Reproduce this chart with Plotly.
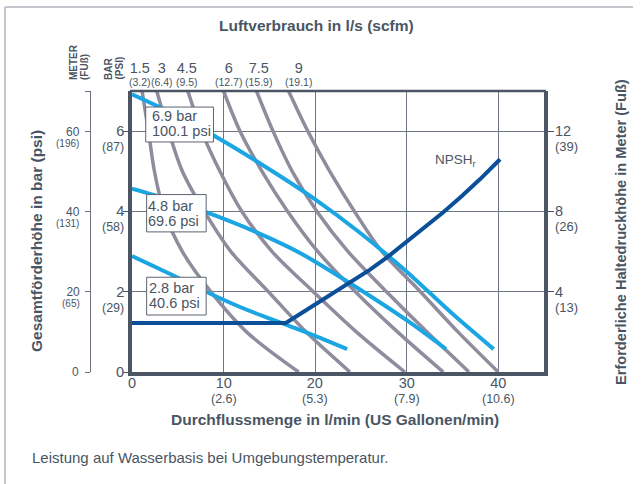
import plotly.graph_objects as go

# ---------------------------------------------------------------- data
# Flow axis (l/min) with US gal/min equivalents
FLOW_TICKS = [0, 10, 20, 30, 40]
FLOW_GPM = ["", "(2.6)", "(5.3)", "(7.9)", "(10.6)"]

# Discharge head, bar (psi)
HEAD_BAR_TICKS = [0, 2, 4, 6]
HEAD_PSI = ["", "(29)", "(58)", "(87)"]

# Discharge head, metres (feet)
HEAD_M_TICKS = [0, 20, 40, 60]
HEAD_FT = ["", "(65)", "(131)", "(196)"]

# NPSHr axis, metres (feet)
NPSH_TICKS = [4, 8, 12]
NPSH_FT = ["(13)", "(26)", "(39)"]

# Air consumption, l/s (scfm)
AIR_LS = ["1.5", "3", "4.5", "6", "7.5", "9"]
AIR_SCFM = ["(3.2)", "(6.4)", "(9.5)", "(12.7)", "(15.9)", "(19.1)"]

# Air consumption curves: flow (l/min) at each head level (bar)
AIR_HEAD = [7, 6, 5, 4, 3, 2, 1, 0]
AIR_1_5 = [1.1, 1.8, 2.45, 3.5, 5.5, 8.6, 12.5, 18.2]
AIR_3 = [2.7, 4.0, 5.5, 7.9, 10.8, 14.9, 19.0, 23.8]
AIR_4_5 = [6.1, 7.6, 9.6, 12.0, 15.3, 19.8, 24.5, 29.8]
AIR_6 = [10.0, 11.8, 14.2, 17.0, 20.3, 24.4, 29.0, 34.0]
AIR_7_5 = [13.6, 15.4, 17.5, 20.2, 23.6, 27.8, 32.2, 36.8]
AIR_9 = [17.1, 19.2, 21.6, 24.3, 27.3, 31.5, 35.6, 40.0]

# Performance curves at three air inlet pressures: flow (l/min), head (bar)
P69_FLOW = [0, 5, 10, 15, 20, 25, 30, 35, 39.5]
P69_HEAD = [6.92, 6.38, 5.75, 5.05, 4.3, 3.45, 2.5, 1.45, 0.57]
P48_FLOW = [0, 4, 8.1, 13.8, 18.4, 23.9, 30, 34.3]
P48_HEAD = [4.57, 4.3, 3.98, 3.46, 2.96, 2.2, 1.29, 0.57]
P28_FLOW = [0, 4, 8.1, 12, 16.8, 20, 23.5]
P28_HEAD = [2.89, 2.46, 2.0, 1.6, 1.18, 0.9, 0.57]

# Required net positive suction head (m)
NPSH_FLOW = [0, 16.8, 20, 22, 24, 26, 28, 30, 32, 34, 36, 38, 40.2]
NPSH_M = [2.44, 2.44, 3.36, 3.94, 4.5, 5.1, 5.76, 6.5, 7.2, 7.96, 8.76, 9.6, 10.6]

PRESSURE_LABELS = [("6.9 bar", "100.1 psi"), ("4.8 bar", "69.6 psi"), ("2.8 bar", "40.6 psi")]

# ---------------------------------------------------------------- style
W, H = 641, 484
ML, MR, MT, MB = 20, 20, 91, 112
PW = W - ML - MR
PH = H - MT - MB
TEXT = "#4a5563"
FRAME = "#4b5563"
GRID = "#6f7782"
GRAY = "#8e8c9d"
LIGHT_BLUE = "#1ba6e3"
DARK_BLUE = "#0b4f98"
FONT = "Liberation Sans, Arial, sans-serif"


def px(x):
    return (x - ML) / PW


def py(y):
    return (H - MB - y) / PH


def span(s, size):
    return f"<span style='font-size:{size}px'>{s}</span>"


fig = go.Figure()

for flows in [AIR_1_5, AIR_3, AIR_4_5, AIR_6, AIR_7_5, AIR_9]:
    fig.add_trace(go.Scatter(
        x=flows, y=AIR_HEAD, mode="lines",
        line=dict(color=GRAY, width=3.5, shape="spline", smoothing=0.9),
        hoverinfo="skip", showlegend=False))

for fx, fy in [(P69_FLOW, P69_HEAD), (P48_FLOW, P48_HEAD), (P28_FLOW, P28_HEAD)]:
    fig.add_trace(go.Scatter(
        x=fx, y=fy, mode="lines",
        line=dict(color=LIGHT_BLUE, width=4, shape="spline", smoothing=0.8),
        hoverinfo="skip", showlegend=False))

fig.add_trace(go.Scatter(
    x=NPSH_FLOW, y=NPSH_M, mode="lines", yaxis="y2",
    line=dict(color=DARK_BLUE, width=4),
    hoverinfo="skip", showlegend=False))

x0_dom = px(132)
x1_dom = px(544)

fig.update_layout(
    width=W, height=H, autosize=False,
    margin=dict(l=ML, r=MR, t=MT, b=MB, pad=0),
    paper_bgcolor="white", plot_bgcolor="white",
    font=dict(family=FONT, color=TEXT),
    showlegend=False,
    xaxis=dict(range=[0, 45], domain=[x0_dom, x1_dom], showline=True,
               linewidth=3.5, linecolor=FRAME, showgrid=True, gridcolor=GRID,
               gridwidth=1, tickvals=FLOW_TICKS[1:], showticklabels=False,
               ticks="", zeroline=False, fixedrange=True),
    yaxis=dict(range=[0, 7], showline=True, linewidth=3.5, linecolor=FRAME,
               showgrid=True, gridcolor=GRID, gridwidth=1,
               tickvals=HEAD_BAR_TICKS, ticks="outside", ticklen=5,
               tickwidth=1.2, tickcolor=FRAME, showticklabels=False,
               zeroline=False, fixedrange=True),
    yaxis2=dict(range=[0, 14], overlaying="y", side="right", anchor="x",
                showline=True, linewidth=3.5, linecolor=FRAME, showgrid=False,
                tickvals=NPSH_TICKS, ticks="outside", ticklen=6, tickwidth=1.2,
                tickcolor=FRAME, showticklabels=False, zeroline=False,
                fixedrange=True),
    yaxis3=dict(range=[0, 70], overlaying="y", anchor="free", position=px(90),
                side="left", showline=True, linewidth=1, linecolor="#6b7480",
                showgrid=False, tickvals=HEAD_M_TICKS + [70], ticks="outside",
                ticklen=5, tickwidth=1, tickcolor="#6b7480",
                showticklabels=False, zeroline=False, fixedrange=True),
)

shapes = []
# outer frame (top and left edges)
shapes.append(dict(type="line", xref="paper", yref="paper", x0=px(5), x1=px(633),
                   y0=py(7), y1=py(7), line=dict(color="#c3c7cd", width=2)))
shapes.append(dict(type="line", xref="paper", yref="paper", x0=px(5), x1=px(5),
                   y0=py(7), y1=py(490), line=dict(color="#c3c7cd", width=2)))
# top border of the chart frame
shapes.append(dict(type="line", xref="paper", yref="paper", x0=px(130), x1=px(546),
                   y0=1, y1=1, line=dict(color=FRAME, width=2.5), layer="above"))

# pressure label boxes (flow l/min, head bar)
boxes = [(1.5, 8.9, 5.73, 6.6), (1.6, 8.1, 3.49, 4.42), (1.6, 8.1, 1.42, 2.36)]
for bx0, bx1, by0, by1 in boxes:
    shapes.append(dict(type="rect", xref="x", yref="y", x0=bx0, x1=bx1, y0=by0, y1=by1,
                       fillcolor="white", line=dict(color="#5b6470", width=1),
                       layer="above"))
fig.update_layout(shapes=shapes)

ann = []


def text(x, y, s, size, xanchor="center", yanchor="middle", xref="paper",
         yref="paper", bold=False, angle=0, yshift=0, align="center"):
    ann.append(dict(x=x, y=y, xref=xref, yref=yref, text=s, showarrow=False,
                    xanchor=xanchor, yanchor=yanchor, textangle=angle,
                    yshift=yshift, align=align,
                    font=dict(family=FONT, size=size, color=TEXT,
                              weight="bold" if bold else "normal")))


# titles
text(px(316), py(25), "Luftverbrauch in l/s (scfm)", 15.5, bold=True)
text(px(335), py(419), "Durchflussmenge in l/min (US Gallonen/min)", 15.5, bold=True)
text(px(36), py(241), "Gesamtförderhöhe in bar (psi)", 15.5, bold=True, angle=-90)
text(px(621), py(232), "Erforderliche Haltedruckhöhe in Meter (Fuß)", 14.6, bold=True, angle=-90)
text(px(30), py(457), "Leistung auf Wasserbasis bei Umgebungstemperatur.", 15,
     xanchor="left")

# column headers
text(px(73), py(82), "METER", 10, bold=True, angle=-90, yanchor="bottom")
text(px(84), py(82), "(FUß)", 10, bold=True, angle=-90, yanchor="bottom")
text(px(108), py(82), "BAR", 10, bold=True, angle=-90, yanchor="bottom")
text(px(119), py(82), "(PSI)", 10, bold=True, angle=-90, yanchor="bottom")

# air consumption labels (two lines, 13 px apart)
air_label_px = [140, 162, 187, 228, 258, 298]
for xpx, a, s in zip(air_label_px, AIR_LS, AIR_SCFM):
    text(px(xpx), py(73.5), span(a, 14.5) + "<br>" + span(s, 10.5), 10)

# flow tick labels
for v, g in zip(FLOW_TICKS, FLOW_GPM):
    if g:
        text(v, py(390.5), span(str(v), 14.5) + "<br>" + span(g, 12.5), 11.5, xref="x")
    else:
        text(v, py(383), str(v), 14.5, xref="x")

# head in bar (psi)
for v, p in zip(HEAD_BAR_TICKS, HEAD_PSI):
    if p:
        text(px(126), v, span(str(v), 14.5) + "<br>" + span(p, 12.5), 11.5,
             xanchor="right", yref="y", yshift=-7.5, align="right")
    else:
        text(px(126), v, str(v), 14.5, xanchor="right", yref="y")

# head in metres (feet)
for v, f in zip(HEAD_M_TICKS, HEAD_FT):
    if f:
        text(px(82), v, span(str(v), 12) + "<br>" + span(f, 10), 8.5,
             xanchor="right", yref="y3", yshift=-5.5, align="right")
    else:
        text(px(81), v, str(v), 12, xanchor="right", yref="y3")

# NPSHr metres (feet)
for v, f in zip(NPSH_TICKS, NPSH_FT):
    text(px(553), v, span(str(v), 14.5) + "<br>" + span(f, 13), 11.5,
         xanchor="left", yref="y2", yshift=-7.5, align="left")

# pressure labels inside the boxes
label_pos = [(150, 124), (146, 213), (147, 295)]
for (l1, l2), (lx, ly) in zip(PRESSURE_LABELS, label_pos):
    text(px(lx), py(ly), span(l1, 14.5) + "<br>" + span(l2, 14.5), 11.6,
         xanchor="left", align="left")

text(px(433), py(160), "NPSH<sub>r</sub>", 13.5, xanchor="left")

fig.update_layout(annotations=ann)
fig.write_html("out.html")
